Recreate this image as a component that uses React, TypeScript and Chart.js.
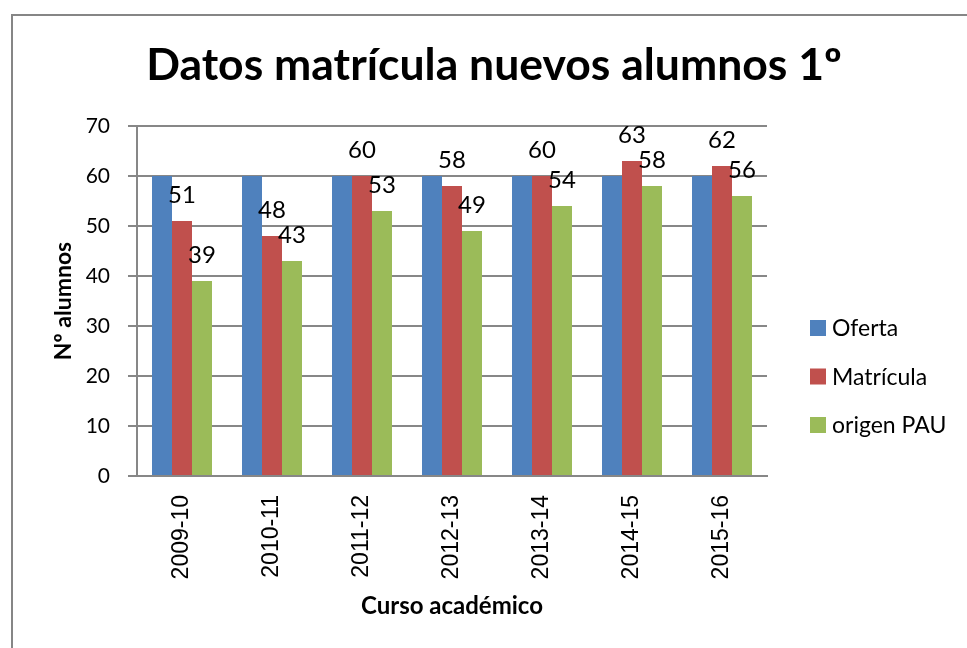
import React, { useEffect, useRef } from 'react';
import { Chart, registerables } from 'chart.js';

Chart.register(...registerables);

const chartTitle = 'Datos matrícula nuevos alumnos 1º';
const xAxisTitle = 'Curso académico';
const yAxisTitle = 'Nº alumnos';

const categories = ['2009-10', '2010-11', '2011-12', '2012-13', '2013-14', '2014-15', '2015-16'];
const seriesNames = ['Oferta', 'Matrícula', 'origen PAU'];
const oferta = [60, 60, 60, 60, 60, 60, 60];
const matricula = [51, 48, 60, 58, 60, 63, 62];
const origenPAU = [39, 43, 53, 49, 54, 58, 56];
const seriesColors = ['#4F81BD', '#C0504D', '#9BBB59'];
const seriesShowValues = [false, true, true];

const yMin = 0;
const yMax = 70;
const yStep = 10;

const FONT = 'Lato, "Open Sans", sans-serif';
const GRID = '#878787';

const framePlugin = {
  id: 'frame',
  beforeDraw(chart: any) {
    const ctx = chart.ctx;
    ctx.save();
    ctx.fillStyle = '#ffffff';
    ctx.fillRect(0, 0, chart.width, chart.height);
    ctx.strokeStyle = '#868686';
    ctx.lineWidth = 2;
    ctx.strokeRect(12, 15, chart.width + 40, chart.height + 40);
    ctx.restore();
  },
};

const titlePlugin = {
  id: 'customTitle',
  afterDraw(chart: any) {
    const ctx = chart.ctx;
    ctx.save();
    ctx.fillStyle = '#000000';
    ctx.font = `bold 44.5px ${FONT}`;
    ctx.textAlign = 'center';
    ctx.textBaseline = 'alphabetic';
    ctx.fillText(chartTitle, 494, 80);
    ctx.restore();
  },
};

const legendPlugin = {
  id: 'customLegend',
  afterDraw(chart: any) {
    const ctx = chart.ctx;
    ctx.save();
    ctx.font = `23px ${FONT}`;
    ctx.textAlign = 'left';
    ctx.textBaseline = 'middle';
    chart.data.datasets.forEach((ds: any, i: number) => {
      const yc = 328 + i * 48.5;
      ctx.fillStyle = ds.backgroundColor;
      ctx.fillRect(810, yc - 8, 16, 16);
      ctx.fillStyle = '#000000';
      ctx.fillText(ds.label, 832, yc + 1);
    });
    ctx.restore();
  },
};

const valueLabelPlugin = {
  id: 'valueLabels',
  afterDatasetsDraw(chart: any) {
    const ctx = chart.ctx;
    ctx.save();
    ctx.fillStyle = '#000000';
    ctx.font = `24px ${FONT}`;
    ctx.textAlign = 'center';
    ctx.textBaseline = 'alphabetic';
    chart.data.datasets.forEach((ds: any, i: number) => {
      if (!ds.showValues) return;
      const meta = chart.getDatasetMeta(i);
      meta.data.forEach((el: any, j: number) => {
        ctx.fillText(String(ds.data[j]), el.x, el.y - 18);
      });
    });
    ctx.restore();
  },
};

export default function App() {
  const canvasRef = useRef<HTMLCanvasElement | null>(null);

  useEffect(() => {
    let chart: Chart | null = null;
    let cancelled = false;
    const build = () => {
      if (cancelled || !canvasRef.current) return;
      const seriesData = [oferta, matricula, origenPAU];
      chart = new Chart(canvasRef.current, {
        type: 'bar',
        data: {
          labels: categories,
          datasets: seriesNames.map((name, i) => ({
            label: name,
            data: seriesData[i],
            backgroundColor: seriesColors[i],
            borderWidth: 0,
            categoryPercentage: 2 / 3,
            barPercentage: 1,
            showValues: seriesShowValues[i],
          })) as any,
        },
        options: {
          responsive: false,
          animation: false,
          devicePixelRatio: 1,
          layout: { padding: { top: 126, right: 200, bottom: 0, left: 0 } },
          plugins: {
            legend: { display: false },
            title: { display: false },
            tooltip: { enabled: false },
          },
          scales: {
            x: {
              afterFit: (scale: any) => {
                scale.height = 172;
              },
              grid: { display: false, drawTicks: false },
              border: { display: true, color: GRID, width: 2 },
              ticks: {
                autoSkip: false,
                minRotation: 90,
                maxRotation: 90,
                padding: 19,
                color: '#000000',
                font: { family: '"Liberation Sans", Arial, sans-serif', size: 23 },
              },
              title: {
                display: true,
                text: xAxisTitle,
                color: '#000000',
                font: { family: FONT, size: 24, weight: 'bold' },
                padding: { top: 0, bottom: 27 },
              },
            },
            y: {
              min: yMin,
              max: yMax,
              afterFit: (scale: any) => {
                scale.width = 137;
              },
              grid: { color: GRID, lineWidth: 2, drawTicks: true, tickLength: 9 },
              border: { display: true, color: GRID, width: 2 },
              ticks: {
                stepSize: yStep,
                padding: 18,
                color: '#000000',
                font: { family: FONT, size: 21 },
              },
              title: {
                display: true,
                text: yAxisTitle,
                color: '#000000',
                font: { family: FONT, size: 23, weight: 'bold' },
                padding: { top: 50, bottom: 0 },
              },
            },
          },
        } as any,
        plugins: [framePlugin, titlePlugin, legendPlugin, valueLabelPlugin],
      });
    };
    const fonts: any = (document as any).fonts;
    if (fonts && fonts.load) {
      Promise.all([
        fonts.load(`20px Lato`),
        fonts.load(`bold 20px Lato`),
        fonts.load(`20px "Liberation Sans"`),
      ]).then(build, build);
    } else {
      build();
    }
    return () => {
      cancelled = true;
      if (chart) chart.destroy();
    };
  }, []);

  return (
    <div style={{ position: 'fixed', left: 0, top: 0, width: 967, height: 648, overflow: 'hidden', background: '#fff' }}>
      <canvas ref={canvasRef} width={967} height={648} style={{ display: 'block', width: 967, height: 648 }} />
    </div>
  );
}
